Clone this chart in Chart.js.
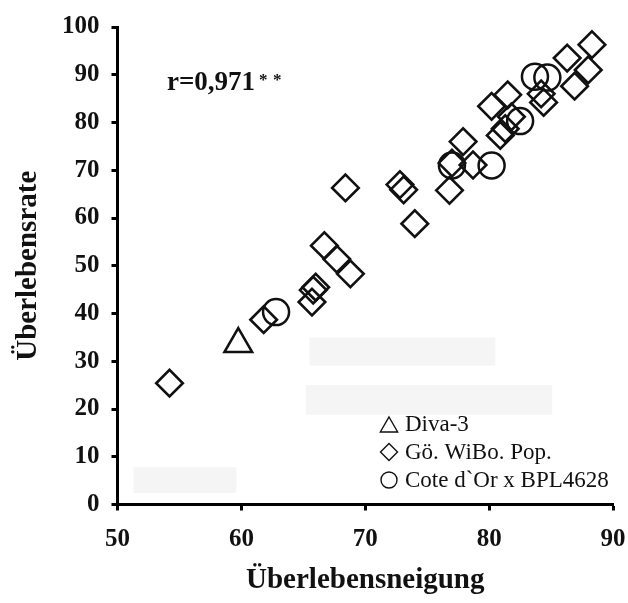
<!DOCTYPE html>
<html>
<head>
<meta charset="utf-8">
<script src="https://cdn.jsdelivr.net/npm/chart.js@4.4.1/dist/chart.umd.min.js"></script>
<style>
  html, body { margin: 0; padding: 0; background: #fff; }
  #wrap { width: 628px; height: 603px; }
</style>
</head>
<body>
<div id="wrap"><canvas id="survivalChart"></canvas></div>
<script>
// tick labels
const xTicks = [50, 60, 70, 80, 90];
const yTicks = [0, 10, 20, 30, 40, 50, 60, 70, 80, 90, 100];

// series names (legend)
const seriesNames = ['Diva-3', 'Gö. WiBo. Pop.', 'Cote d`Or x BPL4628'];

// Diva-3
const divaX = [59.75];
const divaY = [33.6];

// Gö. WiBo. Pop.
const woboX = [54.2, 61.8, 65.7, 65.8, 66.0, 66.7, 67.7, 68.8, 68.4, 72.8, 73.1, 74.0, 76.8, 77.0,
               77.9, 78.7, 80.2, 81.5, 80.9, 81.3, 81.8, 84.2, 84.4, 86.3, 88.3, 88.0, 86.9];
const woboY = [25.4, 38.7, 42.4, 44.9, 45.5, 54.2, 51.4, 48.3, 66.3, 67.0, 65.9, 58.8, 65.8, 71.5,
               76.0, 71.1, 83.4, 85.8, 77.3, 78.7, 81.2, 86.0, 84.2, 93.5, 96.3, 91.0, 87.6];

// Cote d`Or x BPL4628
const coteX = [62.8, 77.0, 80.2, 82.5, 83.7, 84.7];
const coteY = [40.3, 71.0, 71.0, 80.3, 89.6, 89.4];

const corrText = 'r=0,971';

const serif = "'Liberation Serif', 'Times New Roman', serif";
const ink = '#111';

function toPoints(xs, ys) {
    return xs.map((x, i) => ({ x: x, y: ys[i] }));
}

function drawMarker(ctx, style, x, y, r) {
    ctx.beginPath();
    if (style === 'triangle') {
        ctx.moveTo(x, y - r);
        ctx.lineTo(x + r * 0.866, y + r / 2);
        ctx.lineTo(x - r * 0.866, y + r / 2);
        ctx.closePath();
    } else if (style === 'rectRot') {
        ctx.moveTo(x, y - r);
        ctx.lineTo(x + r, y);
        ctx.lineTo(x, y + r);
        ctx.lineTo(x - r, y);
        ctx.closePath();
    } else {
        ctx.arc(x, y, r, 0, Math.PI * 2);
    }
    ctx.stroke();
}

// faint grey patches behind the points, as in the scan
const patchPlugin = {
    id: 'patches',
    beforeDatasetsDraw(chart) {
        const { ctx, scales: { x, y } } = chart;
        const patches = [[65.5, 80.5, 29.1, 35.0], [65.2, 85.1, 18.8, 25.0], [51.3, 59.6, 2.4, 7.8]];
        ctx.save();
        ctx.fillStyle = '#f5f5f5';
        patches.forEach(p => {
            const x0 = x.getPixelForValue(p[0]);
            const x1 = x.getPixelForValue(p[1]);
            const y0 = y.getPixelForValue(p[3]);
            const y1 = y.getPixelForValue(p[2]);
            ctx.fillRect(x0, y0, x1 - x0, y1 - y0);
        });
        ctx.restore();
    }
};

// correlation text and the legend box in the lower right
const notesPlugin = {
    id: 'notes',
    afterDraw(chart) {
        const { ctx, chartArea } = chart;
        ctx.save();
        ctx.fillStyle = ink;
        ctx.textAlign = 'left';
        ctx.textBaseline = 'alphabetic';
        ctx.font = 'bold 27px ' + serif;
        const tx = chartArea.left + 49.5;
        const ty = chartArea.top + 62.5;
        ctx.fillText(corrText, tx, ty);
        const w = ctx.measureText(corrText).width;
        ctx.font = 'bold 17px ' + serif;
        ctx.fillText('*', tx + w + 4, ty - 5);
        ctx.fillText('*', tx + w + 18, ty - 5);

        const styles = ['triangle', 'rectRot', 'circle'];
        const sizes = [10, 8.5, 8];
        const rowY = [-80.5, -52.5, -24.5];
        ctx.strokeStyle = ink;
        ctx.lineWidth = 1.4;
        ctx.font = '23px ' + serif;
        ctx.textBaseline = 'middle';
        seriesNames.forEach((name, i) => {
            const yy = chartArea.bottom + rowY[i];
            const mx = chartArea.right - 224;
            drawMarker(ctx, styles[i], mx, styles[i] === 'triangle' ? yy + 3 : yy, sizes[i]);
            ctx.fillText(name, chartArea.right - 208, yy + 1);
        });
        ctx.restore();
    }
};

const axisBase = {
    type: 'linear',
    border: { display: true, color: '#000', width: 3 },
    grid: { drawOnChartArea: false, drawTicks: true, tickLength: 6, tickColor: '#000', tickWidth: 3 }
};

new Chart(document.getElementById('survivalChart').getContext('2d'), {
    type: 'scatter',
    data: {
        datasets: [{
            label: seriesNames[0],
            data: toPoints(divaX, divaY),
            pointStyle: 'triangle',
            pointRadius: 16,
            pointHoverRadius: 16,
            borderColor: ink,
            backgroundColor: 'rgba(0,0,0,0)',
            borderWidth: 2.5
        }, {
            label: seriesNames[1],
            data: toPoints(woboX, woboY),
            pointStyle: 'rectRot',
            pointRadius: 13.3,
            pointHoverRadius: 13.3,
            borderColor: ink,
            backgroundColor: 'rgba(0,0,0,0)',
            borderWidth: 2.6
        }, {
            label: seriesNames[2],
            data: toPoints(coteX, coteY),
            pointStyle: 'circle',
            pointRadius: 13,
            pointHoverRadius: 13,
            borderColor: ink,
            backgroundColor: 'rgba(0,0,0,0)',
            borderWidth: 2.5
        }]
    },
    options: {
        responsive: true,
        maintainAspectRatio: false,
        animation: false,
        layout: { autoPadding: false, padding: { top: 22.5, right: 15, left: 0, bottom: 0 } },
        plugins: {
            legend: { display: false },
            tooltip: { enabled: false }
        },
        scales: {
            x: {
                ...axisBase,
                min: 50,
                max: 90,
                afterBuildTicks: s => { s.ticks = xTicks.map(v => ({ value: v })); },
                afterFit: s => { s.height = 98.5; s.paddingLeft = 0; s.paddingRight = 0; },
                ticks: { color: ink, font: { family: serif, size: 25, weight: 'bold' }, padding: 14, maxRotation: 0 },
                title: {
                    display: true,
                    text: 'Überlebensneigung',
                    color: ink,
                    font: { family: serif, size: 29, weight: 'bold' },
                    padding: { top: 0, bottom: 5 }
                }
            },
            y: {
                ...axisBase,
                min: 0,
                max: 100,
                afterBuildTicks: s => { s.ticks = yTicks.map(v => ({ value: v })); },
                afterFit: s => { s.width = 117.5; },
                ticks: { color: ink, font: { family: serif, size: 25, weight: 'bold' }, padding: 12 },
                title: {
                    display: true,
                    text: 'Überlebensrate',
                    color: ink,
                    font: { family: serif, size: 29, weight: 'bold' },
                    padding: { top: 11, bottom: 0 }
                }
            }
        }
    },
    plugins: [patchPlugin, notesPlugin]
});
</script>
</body>
</html>
